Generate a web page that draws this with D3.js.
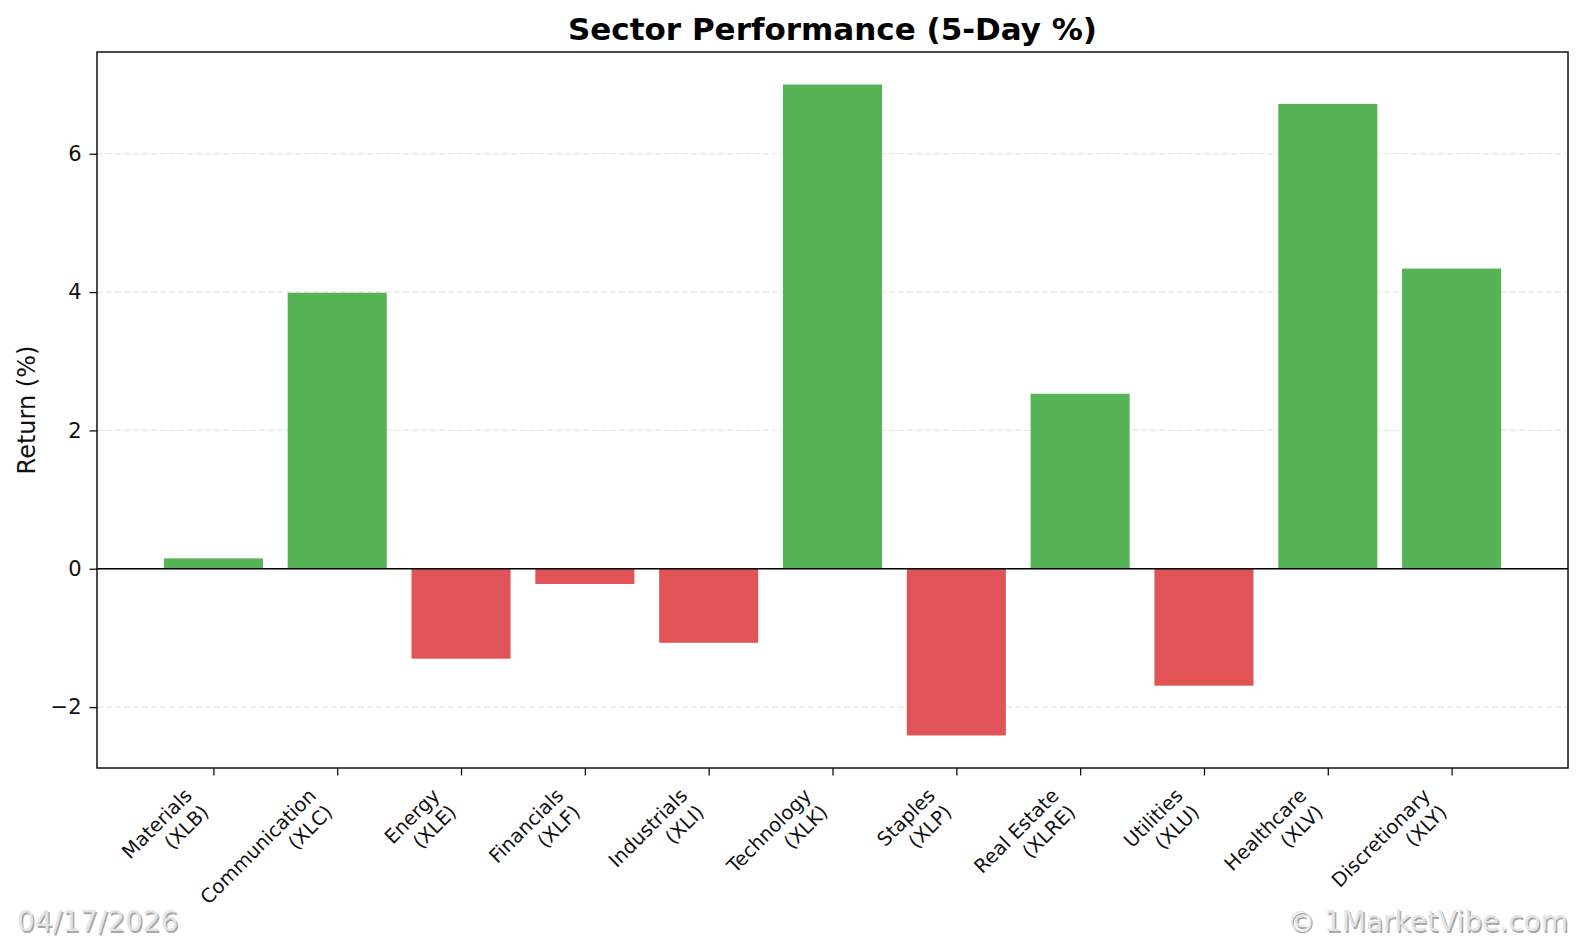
<!DOCTYPE html>
<html>
<head>
<meta charset="utf-8">
<script src="https://cdn.jsdelivr.net/npm/d3@7"></script>
<style>
  body { margin: 0; background: #fff; }
  svg { display: block; font-family: "DejaVu Sans", sans-serif; }
</style>
</head>
<body>
<script>
// Sector names and tickers, 5-day returns in %
const sectors = ['Materials', 'Communication', 'Energy', 'Financials', 'Industrials',
  'Technology', 'Staples', 'Real Estate', 'Utilities', 'Healthcare', 'Discretionary'];
const tickers = ['XLB', 'XLC', 'XLE', 'XLF', 'XLI', 'XLK', 'XLP', 'XLRE', 'XLU', 'XLV', 'XLY'];
const returns = [0.15, 3.99, -1.30, -0.22, -1.07, 7.00, -2.41, 2.53, -1.69, 6.72, 4.34];
const yTicks = [-2, 0, 2, 4, 6];

const titleText = 'Sector Performance (5-Day %)';
const dateText = '04/17/2026';
const creditText = '\u00a9 1MarketVibe.com';

const w = 1584;
const h = 940;
const margin = { top: 52, right: 16, bottom: 172, left: 97 };

const svg = d3.select('body').append('svg')
  .attr('width', w)
  .attr('height', h);

// matplotlib style limits: bars of width 0.8 plus 5% margins
const n = sectors.length;
const xPad = (n - 1 + 0.8) * 0.05 + 0.4;
const xScale = d3.scaleLinear()
  .domain([-xPad, n - 1 + xPad])
  .range([margin.left, w - margin.right]);

const yMin = Math.min(0, d3.min(returns));
const yMax = Math.max(0, d3.max(returns));
const yPad = (yMax - yMin) * 0.05;
const yScale = d3.scaleLinear()
  .domain([yMin - yPad, yMax + yPad])
  .range([h - margin.bottom, margin.top]);

const x0 = margin.left, x1 = w - margin.right;
const y0 = margin.top, y1 = h - margin.bottom;

// Grid lines
svg.append('g')
  .selectAll('line')
  .data(yTicks)
  .enter()
  .append('line')
  .attr('x1', x0)
  .attr('x2', x1)
  .attr('y1', d => yScale(d))
  .attr('y2', d => yScale(d))
  .attr('stroke', '#e6e6e6')
  .attr('stroke-width', 1.2)
  .attr('stroke-dasharray', '6,3');

// Bars
const barW = xScale(0.8) - xScale(0);
svg.append('g')
  .selectAll('rect')
  .data(returns)
  .enter()
  .append('rect')
  .attr('x', (d, i) => xScale(i) - barW / 2)
  .attr('y', d => yScale(Math.max(0, d)))
  .attr('width', barW)
  .attr('height', d => Math.abs(yScale(d) - yScale(0)))
  .attr('fill', d => d >= 0 ? '#56b356' : '#e05356');

// Zero line
svg.append('line')
  .attr('x1', x0)
  .attr('x2', x1)
  .attr('y1', yScale(0))
  .attr('y2', yScale(0))
  .attr('stroke', '#000')
  .attr('stroke-width', 1.5);

// Y axis
const yAxis = svg.append('g')
  .attr('transform', `translate(${x0},0)`)
  .call(d3.axisLeft(yScale).tickValues(yTicks).tickSize(7.5).tickPadding(8)
    .tickFormat(d => d < 0 ? '\u2212' + Math.abs(d) : d));
yAxis.select('.domain').remove();
yAxis.selectAll('line').attr('stroke', '#111').attr('stroke-width', 1.3);
yAxis.selectAll('text').attr('font-size', 21).attr('fill', '#111')
  .attr('font-family', '"DejaVu Sans", sans-serif');

// X axis
const xAxis = svg.append('g')
  .attr('transform', `translate(0,${y1})`)
  .call(d3.axisBottom(xScale).tickValues(d3.range(n)).tickSize(7.5).tickFormat(''));
xAxis.select('.domain').remove();
xAxis.selectAll('line').attr('stroke', '#111').attr('stroke-width', 1.3);

// Rotated two-line tick labels, aligned like ha='right', va='top'
const labels = svg.append('g')
  .selectAll('g')
  .data(sectors)
  .enter()
  .append('g');

const texts = labels.append('text')
  .attr('font-size', 19.5)
  .attr('text-anchor', 'end')
  .attr('fill', '#111')
  .attr('transform', 'rotate(-45)');

texts.append('tspan').attr('x', 0).attr('dy', 0).text(d => d);
texts.append('tspan').attr('x', 0).attr('dy', '1.2em').text((d, i) => '(' + tickers[i] + ')');

labels.each(function(d, i) {
  const t = d3.select(this).select('text').node();
  const b = t.getBBox();
  const c = Math.SQRT1_2;
  const corners = [[b.x, b.y], [b.x + b.width, b.y], [b.x, b.y + b.height], [b.x + b.width, b.y + b.height]]
    .map(([px, py]) => [px * c + py * c, -px * c + py * c]);
  const maxX = d3.max(corners, p => p[0]);
  const minY = d3.min(corners, p => p[1]);
  d3.select(this).attr('transform',
    `translate(${xScale(i) - maxX},${y1 + 16 - minY})`);
});

// Frame
svg.append('rect')
  .attr('x', x0)
  .attr('y', y0)
  .attr('width', x1 - x0)
  .attr('height', y1 - y0)
  .attr('fill', 'none')
  .attr('stroke', '#111')
  .attr('stroke-width', 1.5);

// Title
svg.append('text')
  .attr('x', (x0 + x1) / 2)
  .attr('y', 40)
  .attr('text-anchor', 'middle')
  .attr('font-size', 31)
  .attr('font-weight', 'bold')
  .attr('fill', '#000')
  .text(titleText);

// Y axis label
svg.append('text')
  .attr('transform', `translate(35,${(y0 + y1) / 2}) rotate(-90)`)
  .attr('text-anchor', 'middle')
  .attr('font-size', 24)
  .attr('fill', '#111')
  .text('Return (%)');

// Watermarks with a soft shadow
const marks = [
  { text: dateText, x: 17, anchor: 'start' },
  { text: creditText, x: w - 16, anchor: 'end' }
];
marks.forEach(m => {
  svg.append('text')
    .attr('x', m.x + 1.5)
    .attr('y', 932.5)
    .attr('text-anchor', m.anchor)
    .attr('font-size', 28)
    .attr('fill', '#a8a8a8')
    .text(m.text);
  svg.append('text')
    .attr('x', m.x)
    .attr('y', 931)
    .attr('text-anchor', m.anchor)
    .attr('font-size', 28)
    .attr('fill', '#e4e4e4')
    .text(m.text);
});
</script>
</body>
</html>
